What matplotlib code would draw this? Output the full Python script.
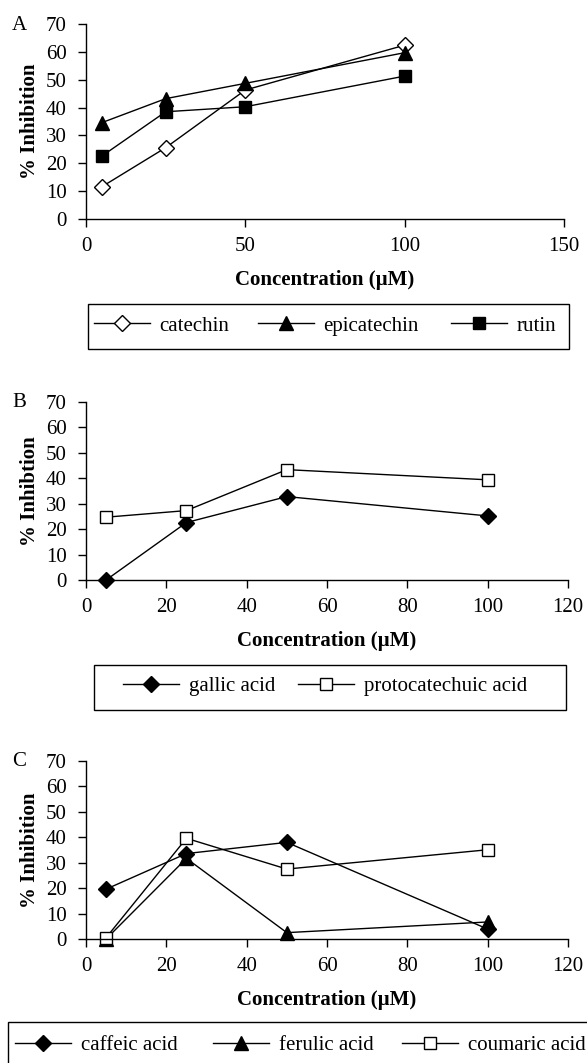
import numpy as np
import matplotlib
matplotlib.use("Agg")
import matplotlib.pyplot as plt
from matplotlib.patches import Rectangle

# === DATA ===
conc = [5, 25, 50, 100]

# panel A
catechin = [11.6, 25.6, 46.3, 62.4]
epicatechin = [34.6, 43.2, 48.7, 59.7]
rutin = [22.6, 38.5, 40.3, 51.3]

# panel B
gallic = [0.0, 22.6, 32.8, 25.2]
protocatechuic = [24.7, 27.3, 43.4, 39.4]

# panel C
caffeic = [19.6, 33.6, 38.0, 3.9]
ferulic = [0.0, 31.7, 2.5, 6.7]
coumaric = [0.5, 39.6, 27.5, 35.1]

yticks = [0, 10, 20, 30, 40, 50, 60, 70]
xticks_A = [0, 50, 100, 150]
xticks_BC = [0, 20, 40, 60, 80, 100, 120]

# === STYLE ===
plt.rcParams['font.family'] = ['Liberation Serif', 'DejaVu Serif']
W, H = 587, 1063
FS = 15

fig = plt.figure(figsize=(W / 100, H / 100), dpi=100)


def px_axes(left, right, top, bottom):
    return fig.add_axes([left / W, 1 - bottom / H, (right - left) / W, (bottom - top) / H])


def style_axes(ax, xticks, xmax, ylabel, tag):
    ax.set_xlim(0, xmax)
    ax.set_ylim(0, 70)
    ax.set_xticks(xticks)
    ax.set_yticks(yticks)
    for s in ['top', 'right']:
        ax.spines[s].set_visible(False)
    for s in ['left', 'bottom']:
        ax.spines[s].set_linewidth(1.0)
    ax.tick_params(direction='out', length=6, width=1.0, labelsize=FS)
    ax.tick_params(axis='x', pad=7)
    ax.tick_params(axis='y', pad=8)
    ax.set_xlabel('Concentration (µM)', fontsize=FS, fontweight='bold', labelpad=10)
    ax.set_ylabel(ylabel, fontsize=FS, fontweight='bold', labelpad=4)
    bb = ax.get_position()
    fig.text(19 / W, bb.y1 - 1 / H, tag, fontsize=FS, ha='center', va='center')


def px_legend(ax, box, xs, yc):
    # frame drawn separately, one small legend per entry so the spacing follows the reference
    left, right, top, bottom = box
    fig.add_artist(Rectangle((left / W, 1 - bottom / H), (right - left) / W, (bottom - top) / H,
                             transform=fig.transFigure, fill=False, edgecolor='black', linewidth=1.0))
    handles, labels = ax.get_legend_handles_labels()
    for h, l, x in zip(handles, labels, xs):
        fig.legend([h], [l], loc='center left', bbox_to_anchor=(x / W, 1 - yc / H),
                   frameon=False, fontsize=FS, handlelength=2.7, handletextpad=0.45,
                   borderpad=0, borderaxespad=0)


line_kw = dict(color='black', linewidth=1.0, clip_on=False)

# --- A ---
axA = px_axes(86, 564, 24, 219)
axA.plot(conc, catechin, marker='D', ms=8.5, mfc='white', mec='black', label='catechin', **line_kw)
axA.plot(conc, epicatechin, marker='^', ms=10, mfc='black', mec='black', label='epicatechin', **line_kw)
axA.plot(conc, rutin, marker='s', ms=8.5, mfc='black', mec='black', label='rutin', **line_kw)
style_axes(axA, xticks_A, 150, '% Inhibition', 'A')
px_legend(axA, (88, 569, 304, 349), [94, 258, 451], 326)

# --- B ---
axB = px_axes(86, 568, 402, 580)
axB.plot(conc, gallic, marker='D', ms=8.5, mfc='black', mec='black', label='gallic acid', **line_kw)
axB.plot(conc, protocatechuic, marker='s', ms=8.5, mfc='white', mec='black', label='protocatechuic acid', **line_kw)
style_axes(axB, xticks_BC, 120, '% Inhibtion', 'B')
px_legend(axB, (94, 566, 665, 710), [123, 298], 686)

# --- C ---
axC = px_axes(86, 568, 761, 939)
axC.plot(conc, caffeic, marker='D', ms=8.5, mfc='black', mec='black', label='caffeic acid', **line_kw)
axC.plot(conc, ferulic, marker='^', ms=10, mfc='black', mec='black', label='ferulic acid', **line_kw)
axC.plot(conc, coumaric, marker='s', ms=8.5, mfc='white', mec='black', label='coumaric acid', **line_kw)
style_axes(axC, xticks_BC, 120, '% Inhibition', 'C')
px_legend(axC, (8, 600, 1022, 1070), [15, 213, 402], 1045)

fig.savefig('out.png', dpi=100)
